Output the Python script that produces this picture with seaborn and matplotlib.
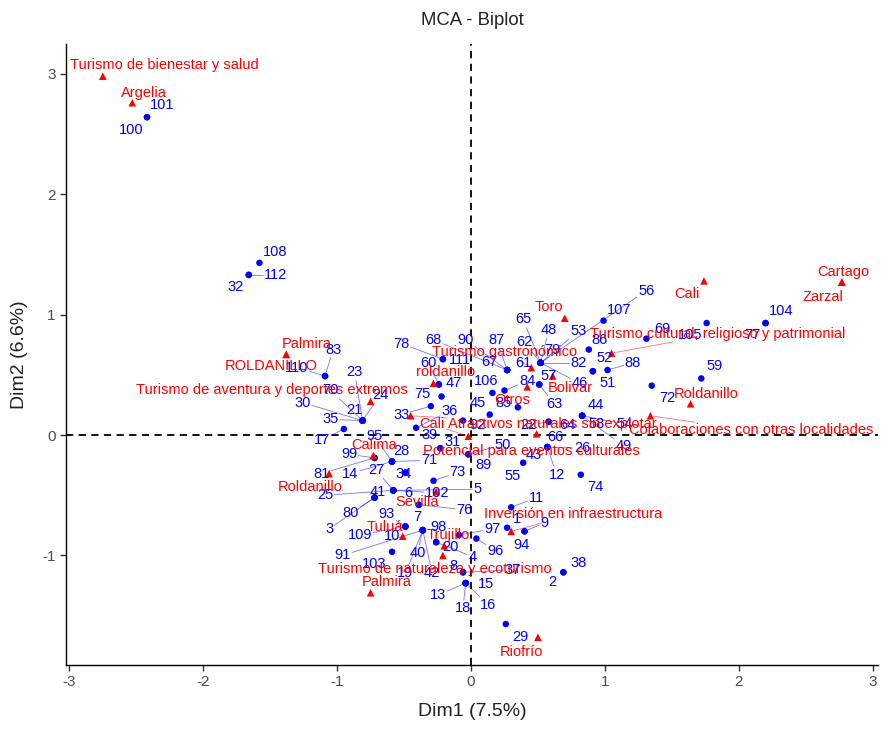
import numpy as np
import pandas as pd
import matplotlib
matplotlib.use("Agg")
import matplotlib.pyplot as plt
import seaborn as sns

# ---- individuals (row points): coordinates on Dim1 / Dim2 ----
ind_names = [
    "100", "101", "108", "112", "32", "83", "110",
    "23", "70", "30", "21", "35", "24", "17",
    "99", "81", "28", "71", "95", "14", "34", "73",
    "27", "25", "6", "102", "5", "41", "80", "3",
    "7", "76", "93", "109", "10", "98", "91", "40", "19", "42",
    "20", "4", "103", "8", "37", "13", "15", "18", "16",
    "97", "96", "1", "9", "94", "11", "38", "2", "29",
    "89", "50", "55", "66", "43", "12", "26", "74",
    "39", "31", "36", "33", "75", "60", "47", "78", "111",
    "68", "67", "87", "90", "106", "84", "45", "85", "92",
    "22", "64", "44", "58", "54", "49", "57", "63",
    "65", "48", "62", "79", "53", "56", "61", "82", "46",
    "86", "52", "51", "88", "107", "69", "105", "104", "77", "59", "72",
]
ind_x = [
    -2.42, -2.42, -1.58, -1.66, -1.66, -1.09, -1.09,
    -0.81, -0.81, -0.81, -0.81, -0.81, -0.81, -0.95,
    -0.72, -0.72, -0.59, -0.59, -0.59, -0.59, -0.49, -0.28,
    -0.58, -0.58, -0.58, -0.58, -0.58, -0.72, -0.72, -0.72,
    -0.39, -0.39, -0.49, -0.49, -0.49, -0.36, -0.36, -0.36, -0.36, -0.36,
    -0.26, -0.26, -0.59, -0.06, -0.06, -0.04, -0.04, -0.04, -0.04,
    -0.09, 0.04, 0.27, 0.40, 0.40, 0.30, 0.69, 0.69, 0.26,
    -0.02, -0.02, 0.39, 0.57, 0.57, 0.57, 0.57, 0.82,
    -0.23, -0.23, -0.41, -0.30, -0.22, -0.24, -0.24, -0.21, -0.21,
    0.27, 0.27, 0.27, 0.27, 0.16, 0.25, 0.14, 0.35, -0.06,
    0.58, 0.58, 0.83, 0.83, 0.83, 0.83, 0.51, 0.51,
    0.52, 0.52, 0.52, 0.52, 0.52, 0.52, 0.52, 0.52, 0.52,
    0.88, 0.91, 0.91, 1.02, 0.99, 1.31, 1.76, 2.20, 2.20, 1.72, 1.35,
]
ind_y = [
    2.64, 2.64, 1.43, 1.33, 1.33, 0.49, 0.49,
    0.12, 0.12, 0.12, 0.12, 0.12, 0.12, 0.05,
    -0.19, -0.19, -0.22, -0.22, -0.22, -0.22, -0.31, -0.38,
    -0.46, -0.46, -0.46, -0.46, -0.46, -0.52, -0.52, -0.52,
    -0.58, -0.58, -0.76, -0.76, -0.76, -0.79, -0.79, -0.79, -0.79, -0.79,
    -0.89, -0.89, -0.97, -1.14, -1.14, -1.23, -1.23, -1.23, -1.23,
    -0.83, -0.86, -0.77, -0.80, -0.80, -0.60, -1.14, -1.14, -1.57,
    -0.16, -0.16, -0.23, -0.10, -0.10, -0.10, -0.10, -0.33,
    -0.11, -0.11, 0.06, 0.24, 0.32, 0.42, 0.42, 0.63, 0.63,
    0.54, 0.54, 0.54, 0.54, 0.35, 0.37, 0.17, 0.23, 0.12,
    0.11, 0.11, 0.16, 0.16, 0.16, 0.16, 0.42, 0.42,
    0.60, 0.60, 0.60, 0.60, 0.60, 0.60, 0.60, 0.60, 0.60,
    0.71, 0.53, 0.53, 0.54, 0.95, 0.80, 0.93, 0.93, 0.93, 0.47, 0.41,
]
# repelled label anchors for the individuals
ind_lab_x = [
    -2.54, -2.31, -1.46, -1.46, -1.76, -1.03, -1.30,
    -0.87, -1.05, -1.26, -0.87, -1.05, -0.68, -1.11,
    -0.91, -1.12, -0.52, -0.31, -0.72, -0.90, -0.50, -0.10,
    -0.71, -1.09, -0.47, -0.25, 0.05, -0.70, -0.90, -1.06,
    -0.40, -0.05, -0.63, -0.83, -0.59, -0.24, -0.96, -0.40, -0.49, -0.29,
    -0.15, 0.01, -0.72, -0.13, 0.31, -0.25, 0.11, -0.06, 0.13,
    0.16, 0.18, 0.34, 0.55, 0.38, 0.49, 0.80, 0.61, 0.37,
    0.09, 0.24, 0.31, 0.63, 0.47, 0.64, 0.83, 0.93,
    -0.31, -0.14, -0.16, -0.52, -0.36, -0.32, -0.13, -0.52, -0.08,
    -0.28, 0.14, 0.19, -0.04, 0.11, 0.42, 0.05, 0.24, 0.05,
    0.43, 0.72, 0.93, 0.94, 1.15, 1.14, 0.58, 0.62,
    0.39, 0.58, 0.40, 0.61, 0.80, 1.31, 0.39, 0.80, 0.81,
    0.96, 1.00, 1.02, 1.21, 1.11, 1.43, 1.64, 2.32, 2.10, 1.82, 1.47,
]
ind_lab_y = [
    2.53, 2.74, 1.52, 1.33, 1.23, 0.71, 0.56,
    0.52, 0.37, 0.27, 0.21, 0.13, 0.33, -0.04,
    -0.16, -0.32, -0.13, -0.21, -0.01, -0.32, -0.32, -0.31,
    -0.29, -0.50, -0.48, -0.48, -0.45, -0.47, -0.65, -0.78,
    -0.68, -0.62, -0.66, -0.83, -0.84, -0.76, -1.00, -0.98, -1.15, -1.15,
    -0.93, -1.01, -1.07, -1.09, -1.12, -1.33, -1.24, -1.44, -1.41,
    -0.78, -0.96, -0.70, -0.73, -0.91, -0.52, -1.06, -1.22, -1.68,
    -0.25, -0.08, -0.34, -0.02, -0.17, -0.33, -0.11, -0.43,
    0.00, -0.06, 0.20, 0.17, 0.34, 0.60, 0.43, 0.76, 0.62,
    0.79, 0.61, 0.79, 0.79, 0.45, 0.45, 0.27, 0.27, 0.08,
    0.08, 0.08, 0.25, 0.09, 0.09, -0.09, 0.49, 0.26,
    0.96, 0.87, 0.77, 0.71, 0.86, 1.20, 0.60, 0.60, 0.43,
    0.79, 0.64, 0.43, 0.60, 1.04, 0.88, 0.83, 1.03, 0.83, 0.57, 0.31,
]

# ---- categories (column points) ----
cat_names = [
    "Turismo de bienestar y salud", "Argelia", "Palmira", "ROLDANILLO",
    "Turismo de aventura y deportes extremos", "Toro", "Cali", "Cartago",
    "Zarzal", "Turismo cultural, religioso y patrimonial",
    "Turismo gastronómico", "roldanillo", "Bolivar", "Otros", "Roldanillo",
    "Colaboraciones con otras localidades",
    "Atractivos naturales sin explotar", "Cali",
    "Potencial para eventos culturales", "Calima", "Roldanillo", "Sevilla",
    "Tuluá", "Trujillo", "Turismo de naturaleza y ecoturismo", "Palmira",
    "Inversión en infraestructura", "Riofrío",
]
cat_x = [-2.75, -2.53, -1.38, -1.38, -0.75, 0.70, 1.74, 2.77, 2.77, 1.05,
         0.45, -0.28, 0.61, 0.42, 1.64, 1.34, -0.45, -0.02, 0.49, -0.73,
         -1.06, -0.26, -0.51, -0.20, -0.21, -0.75, 0.30, 0.50]
cat_y = [2.98, 2.76, 0.67, 0.67, 0.28, 0.97, 1.28, 1.27, 1.27, 0.68,
         0.56, 0.43, 0.49, 0.40, 0.26, 0.16, 0.16, -0.01, 0.01, -0.17,
         -0.32, -0.47, -0.84, -0.92, -1.00, -1.31, -0.80, -1.68]
cat_lab_x = [-2.29, -2.44, -1.23, -1.49, -1.49, 0.58, 1.61, 2.78, 2.63, 1.84,
             0.25, -0.19, 0.74, 0.31, 1.76, 2.09, 0.61, -0.29, 0.45, -0.72,
             -1.20, -0.40, -0.64, -0.17, -0.27, -0.63, 0.76, 0.38]
cat_lab_y = [3.07, 2.84, 0.76, 0.57, 0.37, 1.06, 1.17, 1.35, 1.15, 0.84,
             0.69, 0.52, 0.39, 0.29, 0.34, 0.04, 0.09, 0.09, -0.13, -0.08,
             -0.43, -0.56, -0.76, -0.83, -1.11, -1.22, -0.66, -1.80]

ind_df = pd.DataFrame({"name": ind_names, "Dim1": ind_x, "Dim2": ind_y})
cat_df = pd.DataFrame({"name": cat_names, "Dim1": cat_x, "Dim2": cat_y})

BLUE = "#0000FF"
RED = "#FF0000"

sns.set_theme(style="ticks")
plt.rcParams["font.family"] = ["Liberation Sans", "DejaVu Sans"]
plt.rcParams["axes.unicode_minus"] = False

fig = plt.figure(figsize=(8.81, 7.29), dpi=100)
ax = fig.add_axes([0.0749, 0.0878, 0.9217, 0.8519])

ax.axhline(0, color="black", lw=1.3, ls=(0, (4, 3)), zorder=1)
ax.axvline(0, color="black", lw=1.3, ls=(0, (4, 3)), zorder=1)

sns.scatterplot(data=ind_df, x="Dim1", y="Dim2", ax=ax, color=BLUE,
                s=22, marker="o", edgecolor="none", linewidth=0, zorder=3)
sns.scatterplot(data=cat_df, x="Dim1", y="Dim2", ax=ax, color=RED,
                s=30, marker="^", edgecolor="none", linewidth=0, zorder=3)

ax.set_xlim(-3.025, 3.04)
ax.set_ylim(-1.91, 3.248)
ax.set_xticks([-3, -2, -1, 0, 1, 2, 3])
ax.set_yticks([-1, 0, 1, 2, 3])

texts = []
for name, px, py, lx, ly in zip(ind_names, ind_x, ind_y, ind_lab_x, ind_lab_y):
    t = ax.text(lx, ly, name, color=BLUE, fontsize=10.5, ha="center",
                va="center", zorder=4)
    texts.append((t, px, py, BLUE))
for name, px, py, lx, ly in zip(cat_names, cat_x, cat_y, cat_lab_x, cat_lab_y):
    t = ax.text(lx, ly, name, color=RED, fontsize=10.5, ha="center",
                va="center", zorder=5)
    texts.append((t, px, py, RED))

# connector segments from each label box to its point (when far enough)
fig.canvas.draw()
renderer = fig.canvas.get_renderer()
inv = ax.transData.inverted()
for t, px, py, col in texts:
    bb = t.get_window_extent(renderer)
    P = np.array(ax.transData.transform((px, py)))
    # distance from the point to the nearest spot of the label box
    nx = min(max(P[0], bb.x0), bb.x1)
    ny = min(max(P[1], bb.y0), bb.y1)
    if np.hypot(P[0] - nx, P[1] - ny) < 6:
        continue
    C = np.array([(bb.x0 + bb.x1) / 2, (bb.y0 + bb.y1) / 2])
    d = P - C
    hw, hh = bb.width / 2 + 1, bb.height / 2 + 1
    tx = hw / abs(d[0]) if d[0] != 0 else np.inf
    ty = hh / abs(d[1]) if d[1] != 0 else np.inf
    s = min(tx, ty)
    if s >= 1:
        continue
    start = C + d * s
    gap = np.hypot(*(P - start))
    if gap < 11:
        continue
    end = P - (P - start) / gap * 2.5
    a, b = inv.transform(start), inv.transform(end)
    ax.plot([a[0], b[0]], [a[1], b[1]], color=col, lw=0.6, alpha=0.55,
            zorder=2, solid_capstyle="butt")

for side in ("top", "right"):
    ax.spines[side].set_visible(False)
for side in ("left", "bottom"):
    ax.spines[side].set_color("black")
    ax.spines[side].set_linewidth(1.0)
ax.tick_params(axis="both", colors="#333333", labelcolor="#4D4D4D",
               labelsize=11, length=4, width=1.0)
ax.grid(False)

ax.set_xlabel("Dim1 (7.5%)", fontsize=14, color="#222222", labelpad=10)
ax.set_ylabel("Dim2 (6.6%)", fontsize=14, color="#222222", labelpad=10)
ax.set_title("MCA - Biplot", fontsize=13.3, color="#222222", pad=14)

fig.savefig("out.png", dpi=100)
